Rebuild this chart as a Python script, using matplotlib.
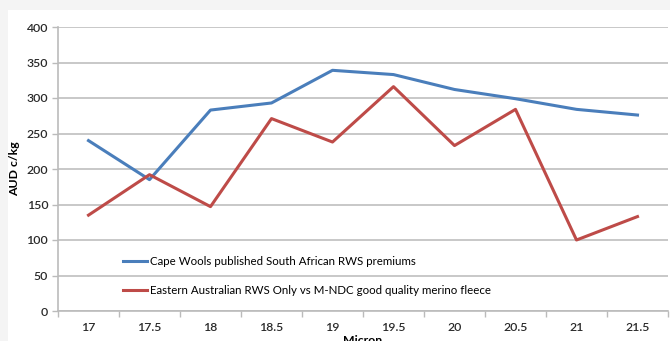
import matplotlib
matplotlib.use('Agg')
import matplotlib.pyplot as plt
from matplotlib.patches import Rectangle

plt.rcParams['font.family'] = ['Lato', 'DejaVu Sans']

# Data
micron = ['17', '17.5', '18', '18.5', '19', '19.5', '20', '20.5', '21', '21.5']
cape_wools = [240, 185, 283, 293, 339, 333, 312, 299, 284, 276]
eastern_aus = [135, 192, 147, 271, 238, 316, 233, 284, 100, 133]

W, H = 670, 341
fig = plt.figure(figsize=(W / 100, H / 100), dpi=100)
fig.patch.set_facecolor('#f4f4f4')
# white chart area
fig.patches.append(Rectangle((8 / W, 0), 1, 1 - 10 / H, transform=fig.transFigure,
                             facecolor='white', edgecolor='none', zorder=0))

ax = fig.add_axes([58 / W, 30 / H, 610 / W, 284 / H])
ax.set_facecolor('none')
ax.set_zorder(2)

x = list(range(len(micron)))
ax.plot(x, cape_wools, color='#4a7ebb', lw=2.2, label='Cape Wools published South African RWS premiums')
ax.plot(x, eastern_aus, color='#be4b48', lw=2.2, label='Eastern Australian RWS Only vs M-NDC good quality merino fleece')

ax.set_xlim(-0.5, len(micron) - 0.5)
ax.set_ylim(0, 400)
ax.set_yticks(range(0, 401, 50))
ax.set_xticks(x)
ax.set_xticklabels(micron)
ax.set_xticks([i - 0.5 for i in range(len(micron) + 1)], minor=True)
ax.tick_params(axis='x', which='major', length=0, pad=8, labelsize=8.8, colors='#2a2a2a')
ax.tick_params(axis='x', which='minor', length=4, color='#bbbbbb', width=1)
ax.tick_params(axis='y', length=4, color='#bbbbbb', width=1, labelsize=8.8, pad=3, labelcolor='#2a2a2a')
for lab in ax.get_xticklabels() + ax.get_yticklabels():
    lab.set_fontweight('semibold')

ax.grid(axis='y', color='#c8c8c8', lw=1.4)
ax.set_axisbelow(True)
for s in ['top', 'right']:
    ax.spines[s].set_visible(False)
ax.spines['left'].set_color('#bbbbbb')
ax.spines['bottom'].set_color('#bbbbbb')
ax.spines['left'].set_linewidth(1.2)
ax.spines['bottom'].set_linewidth(1.2)

ax.set_ylabel('AUD c/kg', fontsize=8.8, fontweight='bold', labelpad=5)
ax.set_xlabel('Micron', fontsize=8.8, fontweight='bold', labelpad=1)

ax.legend(loc='upper left', bbox_to_anchor=(0.09, 0.23), frameon=False, fontsize=8.3,
          handlelength=2.1, handletextpad=0.2, labelspacing=1.55)

fig.savefig('out.png', dpi=100, facecolor=fig.get_facecolor())
